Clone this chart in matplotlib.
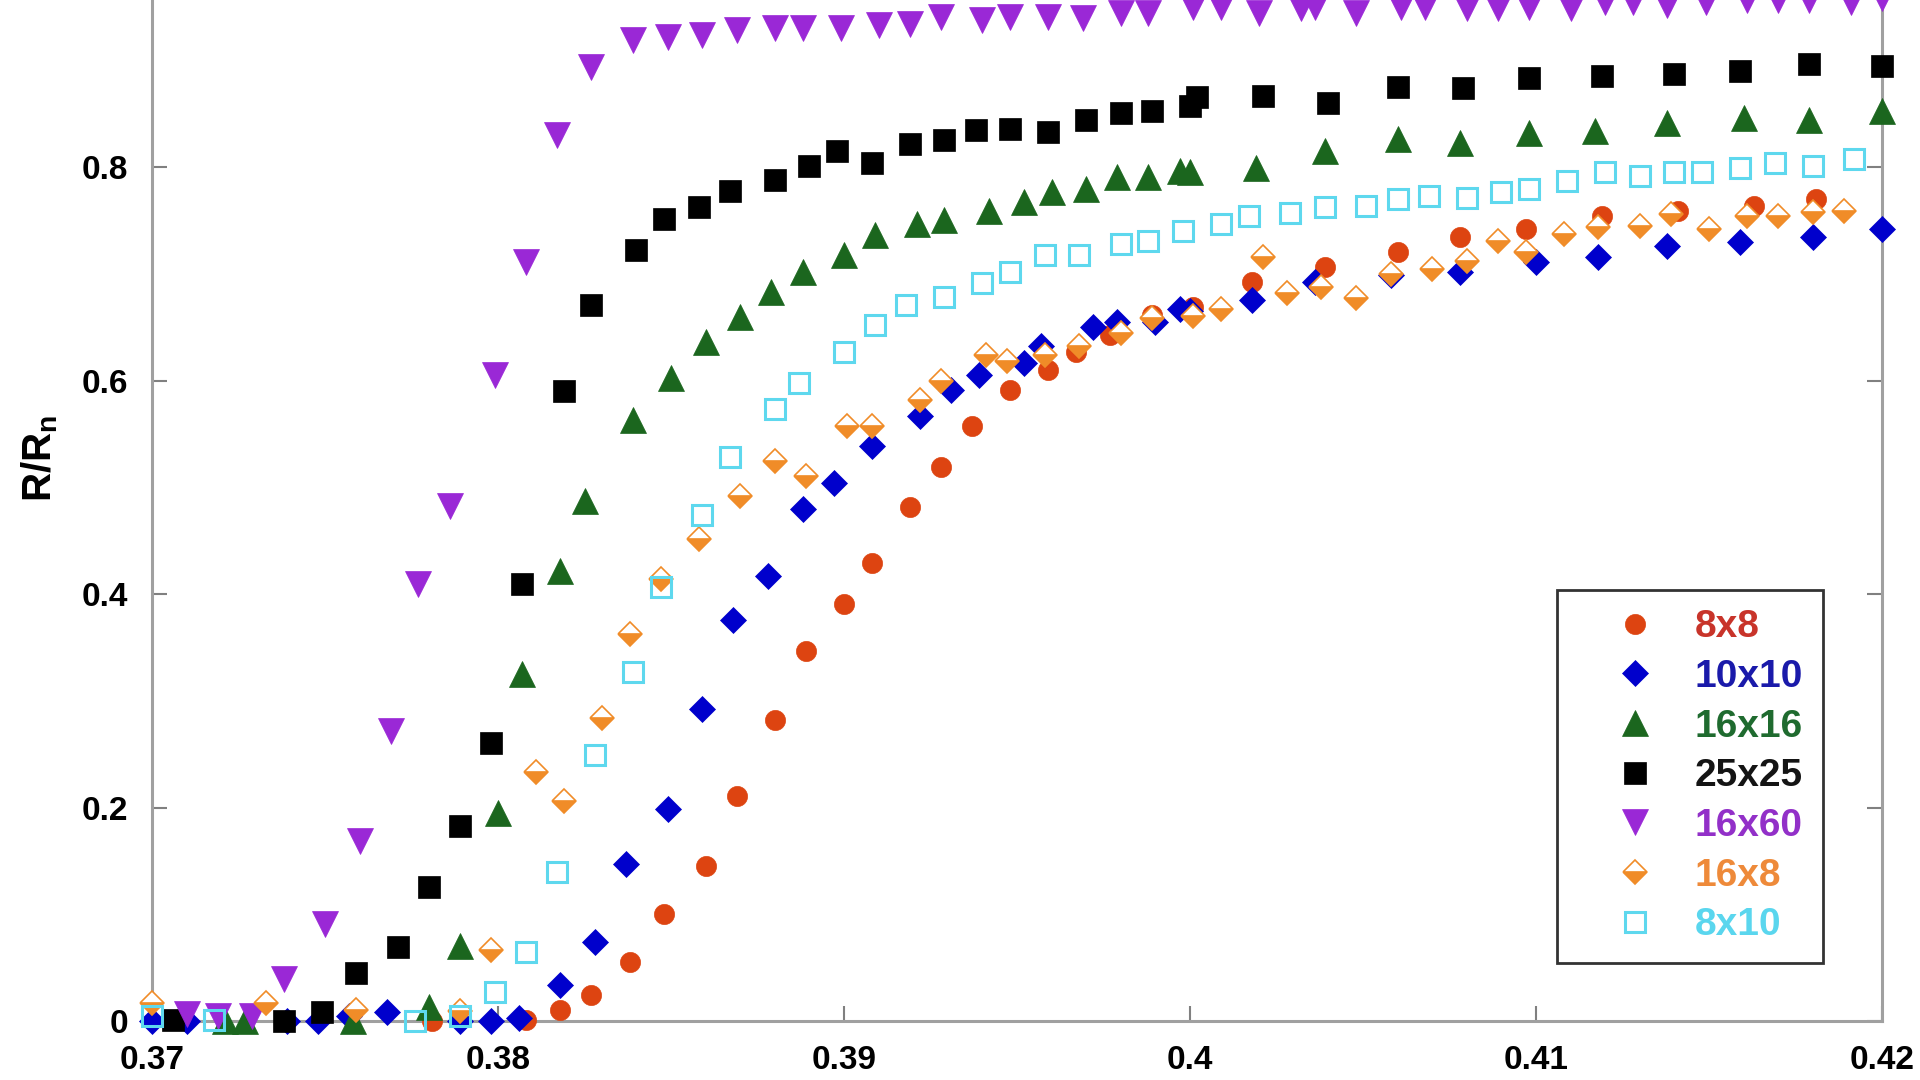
import matplotlib
matplotlib.use("Agg")
import matplotlib.pyplot as plt
from matplotlib.ticker import FuncFormatter

plt.rcParams['font.family'] = ['Liberation Sans', 'DejaVu Sans']
plt.rcParams['font.weight'] = 'bold'
plt.rcParams['mathtext.fontset'] = 'custom'
plt.rcParams['mathtext.rm'] = 'Liberation Sans:bold'
plt.rcParams['mathtext.bf'] = 'Liberation Sans:bold'

# ---- data ----
labels = ['8x8', '10x10', '16x16', '25x25', '16x60', '16x8', '8x10']

x_8x8 = [0.3781, 0.3808, 0.3818, 0.3827, 0.3838, 0.3848, 0.3860, 0.3869, 0.3880, 0.3889,
         0.3900, 0.3908, 0.3919, 0.3928, 0.3937, 0.3948, 0.3959, 0.3967, 0.3977, 0.3989,
         0.4001, 0.4018, 0.4039, 0.4060, 0.4078, 0.4097, 0.4119, 0.4141, 0.4163, 0.4181]
y_8x8 = [0.000, 0.001, 0.010, 0.024, 0.055, 0.100, 0.145, 0.211, 0.282, 0.347,
         0.391, 0.429, 0.482, 0.519, 0.558, 0.591, 0.610, 0.627, 0.643, 0.662,
         0.669, 0.693, 0.707, 0.721, 0.735, 0.742, 0.754, 0.759, 0.764, 0.770]

x_10x10 = [0.3700, 0.3710, 0.3739, 0.3748, 0.3757, 0.3768, 0.3789, 0.3798, 0.3806, 0.3818,
           0.3828, 0.3837, 0.3849, 0.3859, 0.3868, 0.3878, 0.3888, 0.3897, 0.3908, 0.3922,
           0.3931, 0.3939, 0.3952, 0.3957, 0.3972, 0.3979, 0.3990, 0.3997, 0.4000, 0.4018,
           0.4036, 0.4058, 0.4078, 0.4100, 0.4118, 0.4138, 0.4159, 0.4180, 0.4200]
y_10x10 = [0.000, 0.000, 0.000, 0.000, 0.005, 0.008, 0.000, 0.000, 0.003, 0.034,
           0.074, 0.147, 0.199, 0.292, 0.376, 0.417, 0.480, 0.504, 0.539, 0.567,
           0.591, 0.605, 0.617, 0.633, 0.650, 0.655, 0.655, 0.667, 0.665, 0.676,
           0.693, 0.699, 0.702, 0.711, 0.716, 0.726, 0.730, 0.735, 0.742]

x_16x16 = [0.3721, 0.3727, 0.3758, 0.3780, 0.3789, 0.3800, 0.3807, 0.3818, 0.3825, 0.3839,
           0.3850, 0.3860, 0.3870, 0.3879, 0.3888, 0.3900, 0.3909, 0.3921, 0.3929, 0.3942,
           0.3952, 0.3960, 0.3970, 0.3979, 0.3988, 0.3997, 0.4000, 0.4019, 0.4039, 0.4060,
           0.4078, 0.4098, 0.4117, 0.4138, 0.4160, 0.4179, 0.4200]
y_16x16 = [0.000, 0.000, 0.000, 0.013, 0.070, 0.195, 0.325, 0.422, 0.487, 0.563,
           0.603, 0.636, 0.660, 0.683, 0.702, 0.718, 0.737, 0.747, 0.751, 0.759,
           0.768, 0.777, 0.780, 0.791, 0.791, 0.797, 0.796, 0.799, 0.815, 0.827,
           0.823, 0.832, 0.834, 0.842, 0.846, 0.844, 0.853]

x_25x25 = [0.3706, 0.3738, 0.3749, 0.3759, 0.3771, 0.3780, 0.3789, 0.3798, 0.3807, 0.3819,
           0.3827, 0.3840, 0.3848, 0.3858, 0.3867, 0.3880, 0.3890, 0.3898, 0.3908, 0.3919,
           0.3929, 0.3938, 0.3948, 0.3959, 0.3970, 0.3980, 0.3989, 0.4000, 0.4002, 0.4021,
           0.4040, 0.4060, 0.4079, 0.4098, 0.4119, 0.4140, 0.4159, 0.4179, 0.4200]
y_25x25 = [0.001, 0.000, 0.008, 0.045, 0.069, 0.126, 0.183, 0.261, 0.410, 0.590,
           0.671, 0.723, 0.752, 0.763, 0.778, 0.788, 0.801, 0.815, 0.804, 0.822,
           0.826, 0.835, 0.836, 0.833, 0.844, 0.851, 0.853, 0.858, 0.866, 0.867,
           0.860, 0.875, 0.874, 0.884, 0.886, 0.888, 0.890, 0.897, 0.895]

x_16x60 = [0.3710, 0.3719, 0.3729, 0.3738, 0.3750, 0.3760, 0.3769, 0.3777, 0.3786, 0.3799,
           0.3808, 0.3817, 0.3827, 0.3839, 0.3849, 0.3859, 0.3869, 0.3880, 0.3888, 0.3899,
           0.3910, 0.3919, 0.3928, 0.3940, 0.3948, 0.3959, 0.3969, 0.3980, 0.3988, 0.4001,
           0.4009, 0.4020, 0.4032, 0.4036, 0.4048, 0.4061, 0.4068, 0.4080, 0.4089, 0.4098,
           0.4110, 0.4120, 0.4128, 0.4138, 0.4149, 0.4161, 0.4170, 0.4179, 0.4191, 0.4200]
y_16x60 = [0.007, 0.005, 0.005, 0.039, 0.091, 0.169, 0.272, 0.410, 0.483, 0.605,
           0.711, 0.830, 0.894, 0.919, 0.922, 0.924, 0.929, 0.931, 0.931, 0.931,
           0.933, 0.934, 0.941, 0.938, 0.941, 0.941, 0.940, 0.945, 0.945, 0.950,
           0.950, 0.945, 0.949, 0.950, 0.945, 0.950, 0.950, 0.949, 0.949, 0.950,
           0.949, 0.955, 0.955, 0.952, 0.955, 0.957, 0.957, 0.957, 0.955, 0.959]

x_16x8 = [0.3700, 0.3733, 0.3759, 0.3789, 0.3798, 0.3811, 0.3819, 0.3830, 0.3838, 0.3847,
          0.3858, 0.3870, 0.3880, 0.3889, 0.3901, 0.3908, 0.3922, 0.3928, 0.3941, 0.3947,
          0.3958, 0.3968, 0.3980, 0.3989, 0.4001, 0.4009, 0.4021, 0.4028, 0.4038, 0.4048,
          0.4058, 0.4070, 0.4080, 0.4089, 0.4097, 0.4108, 0.4118, 0.4130, 0.4139, 0.4150,
          0.4161, 0.4170, 0.4180, 0.4189]
y_16x8 = [0.017, 0.017, 0.010, 0.009, 0.067, 0.233, 0.206, 0.284, 0.363, 0.414,
          0.452, 0.492, 0.525, 0.511, 0.558, 0.558, 0.582, 0.600, 0.624, 0.619,
          0.624, 0.633, 0.645, 0.659, 0.661, 0.667, 0.716, 0.682, 0.688, 0.678,
          0.700, 0.705, 0.712, 0.731, 0.721, 0.738, 0.744, 0.745, 0.756, 0.742,
          0.754, 0.754, 0.758, 0.759]

x_8x10 = [0.3700, 0.3718, 0.3776, 0.3789, 0.3799, 0.3808, 0.3817, 0.3828, 0.3839, 0.3847,
          0.3859, 0.3867, 0.3880, 0.3887, 0.3900, 0.3909, 0.3918, 0.3929, 0.3940, 0.3948,
          0.3958, 0.3968, 0.3980, 0.3988, 0.3998, 0.4009, 0.4017, 0.4029, 0.4039, 0.4051,
          0.4060, 0.4069, 0.4080, 0.4090, 0.4098, 0.4109, 0.4120, 0.4130, 0.4140, 0.4148,
          0.4159, 0.4169, 0.4180, 0.4192]
y_8x10 = [0.005, 0.001, 0.000, 0.005, 0.027, 0.065, 0.140, 0.249, 0.327, 0.407,
          0.474, 0.529, 0.574, 0.598, 0.627, 0.652, 0.671, 0.679, 0.692, 0.702,
          0.718, 0.718, 0.728, 0.731, 0.740, 0.747, 0.754, 0.757, 0.763, 0.764,
          0.770, 0.773, 0.771, 0.777, 0.780, 0.787, 0.796, 0.792, 0.796, 0.796,
          0.799, 0.804, 0.801, 0.808]

x_ticks = [0.37, 0.38, 0.39, 0.40, 0.41, 0.42]
y_ticks = [0.0, 0.2, 0.4, 0.6, 0.8]

# ---- styles ----
styles = [
    dict(marker='o', ms=14.5, mfc='#dd4411', mec='#dd4411', mew=0.5),
    dict(marker='D', ms=13, mfc='#0000cc', mec='#0000cc', mew=0.5),
    dict(marker='^', ms=19, mfc='#1b661e', mec='#1b661e', mew=0.5),
    dict(marker='s', ms=15.5, mfc='#000000', mec='#000000', mew=0.5),
    dict(marker='v', ms=19, mfc='#9a28d6', mec='#9a28d6', mew=0.5),
    dict(marker='D', ms=12, fillstyle='bottom', mfc='#f08c28', mfcalt='white',
         mec='#f08c28', mew=1.2),
    dict(marker='s', ms=14, mfc='none', mec='#5ed8ee', mew=2.2),
]
text_colors = ['#c8342a', '#1a1aaa', '#1f6b2f', '#141414', '#9230c8', '#ee8a3a', '#5ad6ee']

series = [(x_8x8, y_8x8), (x_10x10, y_10x10), (x_16x16, y_16x16), (x_25x25, y_25x25),
          (x_16x60, y_16x60), (x_16x8, y_16x8), (x_8x10, y_8x10)]

fig = plt.figure(figsize=(19.2, 10.8), dpi=100)
# the picture is cropped just below y = 1, so the axes run past the top edge
ax = fig.add_axes([0.0792, 0.0546, 0.9010, 0.9880])

for (xs, ys), lab, st in zip(series, labels, styles):
    ax.plot(xs, ys, ls='none', label=lab, clip_on=False, zorder=3, **st)

ax.set_xlim(0.37, 0.42)
ax.set_ylim(0, 1)
ax.set_xticks(x_ticks)
ax.set_yticks(y_ticks)
fmt = FuncFormatter(lambda v, p: '%g' % round(v, 3))
ax.xaxis.set_major_formatter(fmt)
ax.yaxis.set_major_formatter(fmt)

for side in ['left', 'right', 'bottom', 'top']:
    ax.spines[side].set_color('#a0a0a0')
    ax.spines[side].set_linewidth(2.2)

ax.tick_params(direction='in', length=11, width=1.5, color='#808080',
               labelsize=24, pad=17, right=True, top=False)

fig.text(40 / 1920, 1 - 458 / 1080, r'R/R$_\mathbf{n}$', rotation=90,
         fontsize=29, ha='center', va='center')

leg = ax.legend(loc='lower left', bbox_to_anchor=(0.8121, 0.0548), fontsize=28,
                frameon=True, fancybox=False, edgecolor='#333333', framealpha=1,
                borderpad=0.5, handlelength=3.0, handletextpad=0.05,
                labelspacing=0.35, borderaxespad=0)
leg.get_frame().set_linewidth(2)
for t, c in zip(leg.get_texts(), text_colors):
    t.set_color(c)

fig.savefig('out.png', dpi=100)
